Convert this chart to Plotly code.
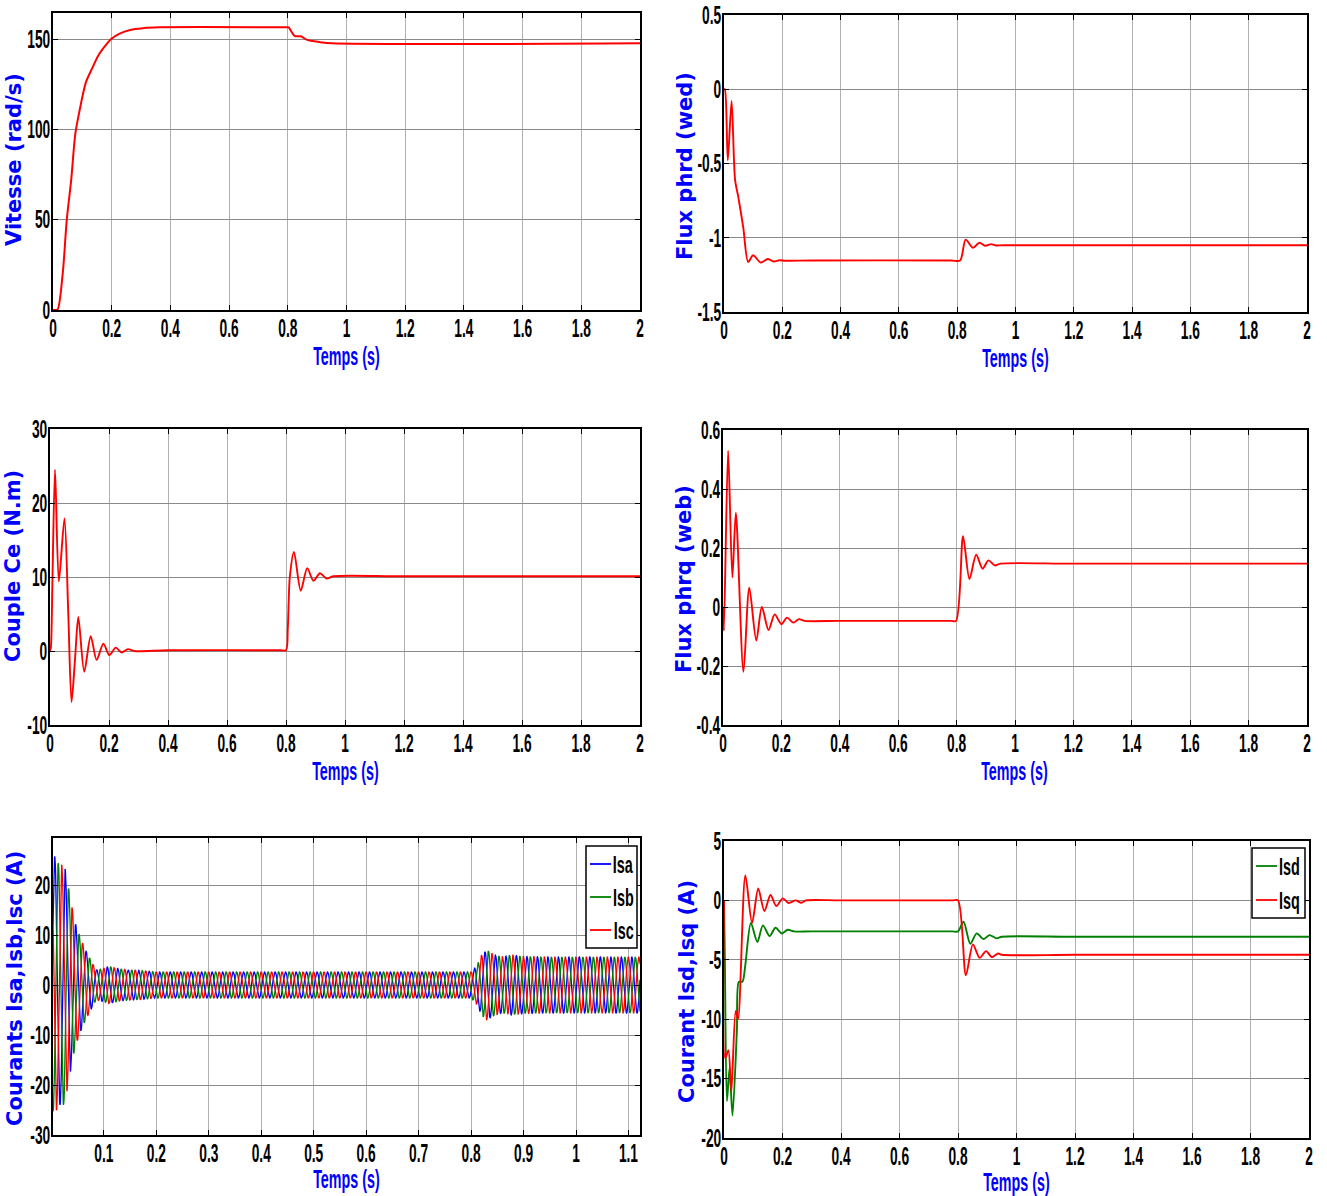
import numpy as np
import plotly.graph_objects as go

# ---------------- data ----------------
# Panel 1 : speed
t_speed = [0, 0.008, 0.016, 0.033, 0.047, 0.062, 0.076, 0.09, 0.112, 0.134, 0.155, 0.177,
           0.198, 0.227, 0.263, 0.306, 0.363, 0.8, 0.803, 0.823, 0.844, 0.866, 0.909, 0.952, 2.0]
speed = [0, 0, 0.4, 20, 50, 72, 97.5, 110, 126, 134, 141, 146,
         150, 153, 155, 156, 156.5, 156.5, 156.5, 151.8, 151.5, 149.5, 148.3, 147.6, 147.6]

# Panel 2 : flux phrd
t_phrd = [0, 0.003, 0.013, 0.026, 0.038, 0.049, 0.066, 0.083, 0.1, 0.126, 0.15, 0.17, 0.19,
          0.21, 0.3, 0.78, 0.81, 0.829, 0.854, 0.876, 0.896, 0.917, 0.934, 0.96, 2.0]
phrd = [0, 0, -0.478, -0.079, -0.61, -0.725, -0.93, -1.163, -1.118, -1.167, -1.143, -1.16, -1.152,
        -1.155, -1.153, -1.153, -1.153, -1.013, -1.067, -1.034, -1.054, -1.043, -1.052, -1.05, -1.05]

# Panel 3 : electromagnetic torque
t_ce = [0, 0.003, 0.008, 0.017, 0.03, 0.049, 0.062, 0.073, 0.085, 0.096, 0.116, 0.138, 0.158,
        0.181, 0.201, 0.223, 0.243, 0.264, 0.285, 0.4, 0.78, 0.8, 0.806, 0.813, 0.827, 0.85,
        0.872, 0.893, 0.915, 0.938, 0.96, 1.2, 2.0]
ce = [0, 0.5, 9, 24.5, 9.4, 17.9, 5, -6.9, -1, 4.6, -2.8, 2.0, -1.2,
      1.0, -0.55, 0.45, -0.2, 0.25, 0, 0.1, 0.1, 0.1, 3, 10, 13.4, 8.15,
      11.2, 9.5, 10.5, 9.8, 10.1, 10.1, 10.1]

# Panel 4 : flux phrq
t_phrq = [0, 0.003, 0.0175, 0.032, 0.044, 0.07, 0.09, 0.114, 0.133, 0.156, 0.177, 0.2, 0.219,
          0.241, 0.26, 0.28, 0.4, 0.78, 0.798, 0.822, 0.844, 0.867, 0.889, 0.909, 0.931, 0.95,
          1.2, 2.0]
phrq = [0, -0.08, 0.53, 0.10, 0.32, -0.22, 0.065, -0.114, 0.0, -0.078, -0.025, -0.058, -0.036,
        -0.053, -0.041, -0.047, -0.047, -0.047, -0.047, 0.24, 0.095, 0.177, 0.13, 0.158, 0.141, 0.147,
        0.147, 0.147]

# Panel 5 : three-phase stator currents (envelope amplitude)
f_elec = 50.0            # Hz, electrical frequency counted on the picture
t_peak_a = 0.0064        # first positive peak of Isa
env_t = [0, 0.005, 0.015, 0.025, 0.035, 0.045, 0.055, 0.065, 0.075, 0.085, 0.095, 0.11,
         0.13, 0.15, 0.17, 0.2, 0.8, 0.81, 0.82, 0.83, 0.845, 0.86, 0.875, 0.9, 0.95, 1.12]
env_a = [24, 26, 24, 24, 18, 12.5, 9.5, 7, 5, 3, 3.2, 3.7,
         3.2, 3.0, 2.9, 2.6, 2.6, 3.8, 6.0, 7.0, 6.0, 5.6, 6.0, 5.7, 5.6, 5.6]
t_cur = np.arange(0.003, 1.122, 0.0005)

# Panel 6 : d-q stator currents
t_isd = [0, 0.003, 0.01, 0.019, 0.029, 0.044, 0.051, 0.063, 0.073, 0.092, 0.114, 0.133, 0.156,
         0.176, 0.198, 0.218, 0.24, 0.3, 0.78, 0.8, 0.819, 0.842, 0.864, 0.887, 0.908, 0.932,
         0.95, 1.2, 2.0]
isd = [0, -5, -16.9, -14.1, -18.1, -11, -6.85, -6.85, -5.4, -1.9, -3.5, -2.1, -3.0,
       -2.3, -2.78, -2.47, -2.61, -2.61, -2.61, -2.61, -1.8, -3.65, -2.78, -3.26, -2.92, -3.2,
       -3.06, -3.06, -3.06]
t_isq = [0, 0.004, 0.015, 0.025, 0.04, 0.048, 0.073, 0.096, 0.117, 0.138, 0.159, 0.179, 0.201,
         0.221, 0.245, 0.264, 0.28, 0.4, 0.78, 0.8, 0.827, 0.851, 0.874, 0.896, 0.916, 0.937,
         0.95, 1.2, 2.0]
isq = [0, -13.3, -12.6, -16.1, -9.3, -10, 2.1, -1.9, 1.0, -0.9, 0.45, -0.48, 0.17,
       -0.22, 0, -0.2, 0, 0, 0, 0, -6.3, -3.7, -4.83, -4.27, -4.78, -4.47,
       -4.58, -4.58, -4.58]

x_title = "Temps (s)"
y_titles = ["Vitesse (rad/s)", "Flux phrd (wed)", "Couple Ce (N.m)", "Flux phrq (web)",
            "Courants Isa,Isb,Isc (A)", "Courant Isd,Isq (A)"]
legend_abc = ["Isa", "Isb", "Isc"]
legend_dq = ["Isd", "Isq"]

# ---------------- styling / layout ----------------
W, H = 1327, 1196
NARROW = "Liberation Sans, Arial, sans-serif"
WIDE = "DejaVu Sans, Verdana, sans-serif"
BLUE = "#0000ff"
RED = "#ff0000"
GREEN = "#008000"

panels = [
    # box (left, top, right, bottom) px, ranges, y ticks, y-title centre (x,y) px, x-title centre y px
    dict(box=(53, 13, 640, 310), xr=[0, 2], yr=[0, 164.4], ytv=[0, 50, 100, 150], yc=(14, 160), xty=356),
    dict(box=(724, 15, 1307, 312), xr=[0, 2], yr=[-1.5, 0.5], ytv=[-1.5, -1, -0.5, 0, 0.5], yc=(685, 166), xty=358),
    dict(box=(50, 429, 640, 725), xr=[0, 2], yr=[-10, 30], ytv=[-10, 0, 10, 20, 30], yc=(13, 566), xty=771),
    dict(box=(723, 430, 1307, 725), xr=[0, 2], yr=[-0.4, 0.6], ytv=[-0.4, -0.2, 0, 0.2, 0.4, 0.6], yc=(684, 579), xty=771),
    dict(box=(53, 838, 640, 1135), xr=[0.003, 1.122], yr=[-30, 29.4], ytv=[-30, -20, -10, 0, 10, 20], yc=(15, 989), xty=1179),
    dict(box=(724, 841, 1309, 1138), xr=[0, 2], yr=[-20, 5], ytv=[-20, -15, -10, -5, 0, 5], yc=(687, 992), xty=1182),
]

fig = go.Figure()


def ax(i):
    return ("x" if i == 0 else f"x{i+1}"), ("y" if i == 0 else f"y{i+1}")


def add_line(i, x, y, color, name=None, shape="spline", width=1.9):
    xa, ya = ax(i)
    line = dict(color=color, width=width, shape=shape)
    if shape == "spline":
        line["smoothing"] = 0.8
    fig.add_trace(go.Scatter(
        x=x, y=y, mode="lines", xaxis=xa, yaxis=ya, line=line,
        name=name, showlegend=False, hoverinfo="skip"))


add_line(0, t_speed, speed, RED, width=2)
add_line(1, t_phrd, phrd, RED)
add_line(2, t_ce, ce, RED)
add_line(3, t_phrq, phrq, RED)

amp = np.interp(t_cur, env_t, env_a)
phase = 2 * np.pi * f_elec * (t_cur - t_peak_a)
isa = amp * np.cos(phase)
isb = amp * np.cos(phase - 2 * np.pi / 3)
isc = amp * np.cos(phase + 2 * np.pi / 3)
add_line(4, t_cur, isa, BLUE, name="Isa", shape="linear", width=1.3)
add_line(4, t_cur, isb, GREEN, name="Isb", shape="linear", width=1.3)
add_line(4, t_cur, isc, RED, name="Isc", shape="linear", width=1.3)

add_line(5, t_isd, isd, GREEN, name="Isd")
add_line(5, t_isq, isq, RED, name="Isq")

layout = dict(
    width=W, height=H, margin=dict(l=0, r=0, t=0, b=0, autoexpand=False),
    paper_bgcolor="white", plot_bgcolor="white", showlegend=False,
)

tickfont = dict(family=NARROW, size=25, color="black", weight="bold")
annotations = []
shapes = []
for i, p in enumerate(panels):
    l, t, r, b = p["box"]
    xkey = "xaxis" if i == 0 else f"xaxis{i+1}"
    ykey = "yaxis" if i == 0 else f"yaxis{i+1}"
    xa, ya = ax(i)
    if i == 4:
        xtv = [0.1, 0.2, 0.3, 0.4, 0.5, 0.6, 0.7, 0.8, 0.9, 1.0, 1.1]
    else:
        xtv = [0, 0.2, 0.4, 0.6, 0.8, 1.0, 1.2, 1.4, 1.6, 1.8, 2.0]
    layout[xkey] = dict(
        domain=[l / W, r / W], range=p["xr"], anchor=ya, automargin=False,
        tickvals=xtv, ticktext=[f"{v:g}" for v in xtv], tickfont=tickfont,
        ticklabelstandoff=-5,
        showline=True, linecolor="black", linewidth=1.6, mirror="ticks",
        ticks="inside", ticklen=5, tickcolor="black", tickwidth=1,
        showgrid=True, gridcolor="#b0b0b0", gridwidth=1, zeroline=False,
        fixedrange=True,
    )
    layout[ykey] = dict(
        domain=[1 - b / H, 1 - t / H], range=p["yr"], anchor=xa, automargin=False,
        tickvals=p["ytv"], ticktext=[f"{v:g}" for v in p["ytv"]], tickfont=tickfont,
        ticklabelstandoff=-4,
        showline=True, linecolor="black", linewidth=1.6, mirror="ticks",
        ticks="inside", ticklen=5, tickcolor="black", tickwidth=1,
        showgrid=True, gridcolor="#8a8a8a", gridwidth=1, zeroline=False,
        fixedrange=True,
    )
    annotations.append(dict(
        text=x_title, xref="paper", yref="paper", x=(l + r) / 2 / W, y=1 - p["xty"] / H,
        xanchor="center", yanchor="middle", showarrow=False,
        font=dict(family=NARROW, size=26, color=BLUE, weight="bold")))
    annotations.append(dict(
        text=y_titles[i], xref="paper", yref="paper", x=p["yc"][0] / W, y=1 - p["yc"][1] / H,
        xanchor="center", yanchor="middle", showarrow=False, textangle=-90,
        font=dict(family=WIDE, size=21, color=BLUE, weight="bold")))


# boxed legends drawn like MATLAB's (line sample + condensed bold label)
def boxed_legend(box, names, colors, row_y):
    l, t, r, b = box
    shapes.append(dict(type="rect", xref="paper", yref="paper", layer="above",
                       x0=l / W, x1=r / W, y0=1 - b / H, y1=1 - t / H,
                       line=dict(color="black", width=1.5), fillcolor="white"))
    for name, col, yy in zip(names, colors, row_y):
        shapes.append(dict(type="line", xref="paper", yref="paper", layer="above",
                           x0=(l + 4) / W, x1=(l + 25) / W, y0=1 - yy / H, y1=1 - yy / H,
                           line=dict(color=col, width=1.8)))
        annotations.append(dict(
            text=name, xref="paper", yref="paper", x=(l + 37) / W, y=1 - yy / H,
            xanchor="center", yanchor="middle", showarrow=False,
            font=dict(family=NARROW, size=24, color="black", weight="bold")))


boxed_legend((586, 846, 637, 948), legend_abc, [BLUE, GREEN, RED], [864, 897, 930])
boxed_legend((1252, 848, 1305, 918), legend_dq, [GREEN, RED], [866, 900])

layout["annotations"] = annotations
layout["shapes"] = shapes
fig.update_layout(**layout)

# Page without body margin, and the MATLAB-export look: the reference's bold
# labels are horizontally condensed.  Re-applied after every redraw.
squeeze_js = """
document.documentElement.style.margin = '0';
document.documentElement.style.overflow = 'hidden';
document.body.style.margin = '0';
document.body.style.padding = '0';
var gd = document.getElementById('{plot_id}');
var legNames = ['Isa', 'Isb', 'Isc', 'Isd', 'Isq'];
function squeezeOne(t, f) {
  if (t.getAttribute('data-sq')) { return; }
  var L = t.getComputedTextLength();
  if (L > 0) {
    t.setAttribute('textLength', (L * f).toFixed(1));
    t.setAttribute('lengthAdjust', 'spacingAndGlyphs');
    t.setAttribute('data-sq', '1');
  }
}
function squeezeAll() {
  gd.querySelectorAll('.xaxislayer-above text, .yaxislayer-above text').forEach(function (t) {
    squeezeOne(t, 0.55);
  });
  gd.querySelectorAll('.annotation-text').forEach(function (t) {
    if (t.textContent === 'Temps (s)') { squeezeOne(t, 0.55); }
    else if (legNames.indexOf(t.textContent) >= 0) { squeezeOne(t, 0.6); }
  });
}
squeezeAll();
if (gd.on) { gd.on('plotly_afterplot', squeezeAll); }
[50, 200, 500, 1000].forEach(function (ms) { setTimeout(squeezeAll, ms); });
"""
fig.write_html("out.html", post_script=squeeze_js, config={"displayModeBar": False})
